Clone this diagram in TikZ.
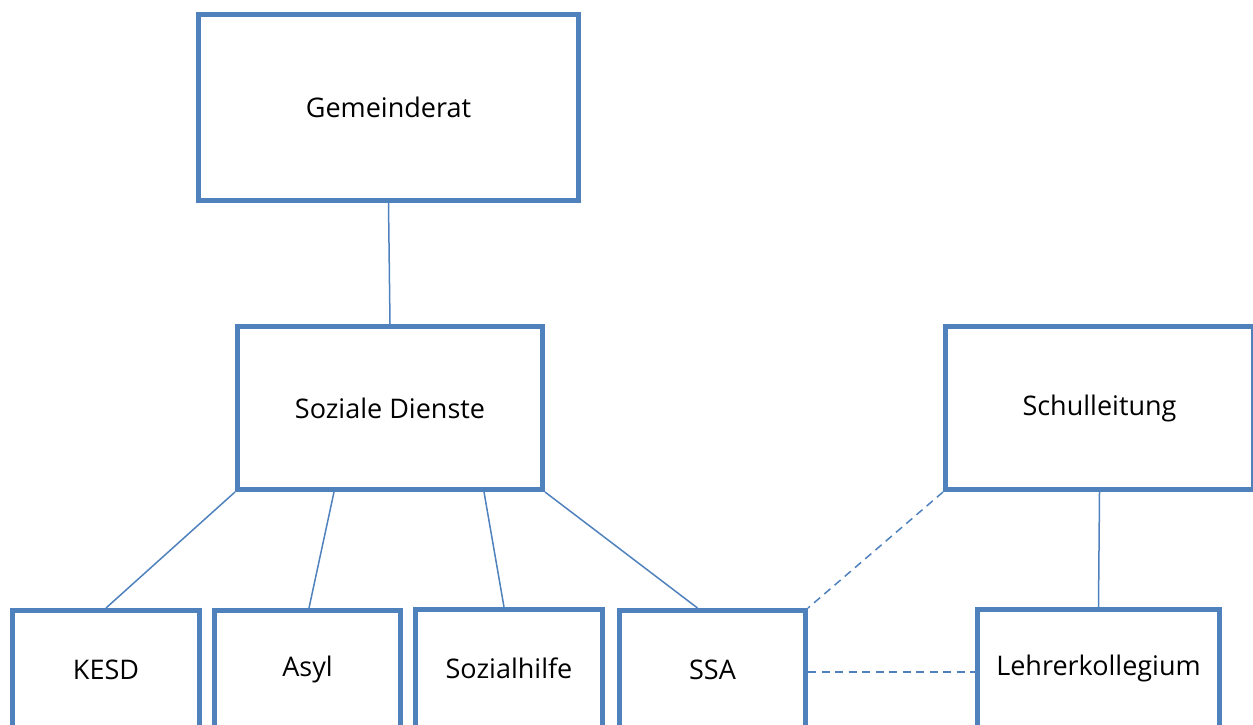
\documentclass[tikz,border=0pt]{standalone}
\usepackage{fontspec}
\setmainfont{Open Sans}
\definecolor{orgblue}{RGB}{79,129,189}
\begin{document}
\begin{tikzpicture}[x=1pt,y=-1pt,
  box/.style={draw=orgblue, line width=5pt, fill=white, inner sep=0pt, align=center,
    font=\fontsize{27}{31}\selectfont, text=black},
  link/.style={draw=orgblue, line width=1.5pt},
  dlink/.style={draw=orgblue, line width=1.5pt, dash pattern=on 8pt off 5.5pt}]
\useasboundingbox (0,0) rectangle (1253,724);
\clip (0,0) rectangle (1253,724);
% top level
\node[box, minimum width=380pt, minimum height=186pt] (gr) at (388.5,107.5) {Gemeinderat};
\node[box, minimum width=305pt, minimum height=163pt] (sd) at (390,408) {Soziale Dienste};
\node[box, minimum width=308pt, minimum height=163pt] (sl) at (1099.5,408) {Schulleitung};
% bottom row (cut off at lower edge)
\node[box, minimum width=187pt, minimum height=118pt] (kesd) at (106,669.5) {KESD};
\node[box, minimum width=186pt, minimum height=118pt] (asyl) at (307.5,669.5) {Asyl};
\node[box, minimum width=187pt, minimum height=118pt] (soz) at (509,668.5) {Sozialhilfe};
\node[box, minimum width=186pt, minimum height=118pt] (ssa) at (712.5,669.5) {SSA};
\node[box, minimum width=242pt, minimum height=118pt] (lk) at (1098.5,668.5) {Lehrerkollegium};
% connectors
\draw[link] (gr.south) -- (sd.north);
\draw[link] (sd.south west) -- (kesd.north);
\draw[link] ([xshift=-56pt]sd.south) -- ([xshift=1.5pt]asyl.north);
\draw[link] ([xshift=94pt]sd.south) -- ([xshift=-5pt]soz.north);
\draw[link] (sd.south east) -- ([xshift=-15pt]ssa.north);
\draw[link] (sl.south) -- (lk.north);
\draw[dlink] (sl.south west) -- (ssa.north east);
\draw[dlink] ([yshift=-2.5pt]ssa.east) -- ([yshift=-3.5pt]lk.west);
\end{tikzpicture}
\end{document}
